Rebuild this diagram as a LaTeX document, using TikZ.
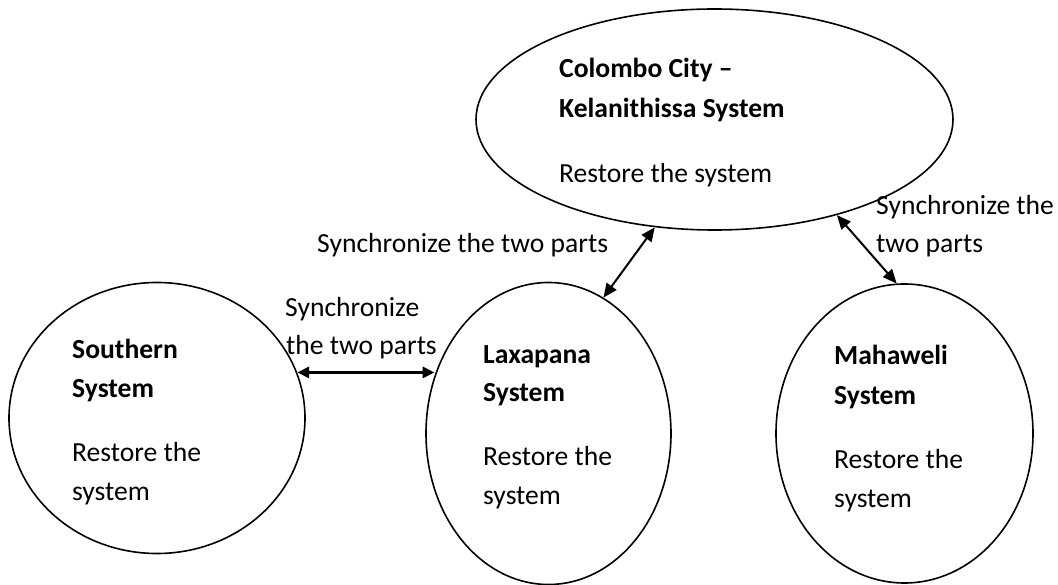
\documentclass[tikz,border=0pt]{standalone}
\usepackage{fontspec}
\setmainfont{Carlito}
\usetikzlibrary{shapes.geometric,arrows.meta}
\begin{document}
\begin{tikzpicture}[x=1pt,y=-1pt,
  sys/.style={draw,ellipse,line width=1.6pt,inner sep=0pt},
  txt/.style={anchor=base west,inner sep=0pt,font=\fontsize{27.6}{39}\selectfont},
  btxt/.style={anchor=base west,inner sep=0pt,font=\fontsize{27.6}{39}\selectfont\bfseries},
  link/.style={line width=2pt,{Triangle[length=14pt,width=12pt]}-{Triangle[length=14pt,width=12pt]}},
  thick link/.style={line width=3.5pt,{Triangle[length=12pt,width=11pt]}-{Triangle[length=12pt,width=11pt]}}]
\useasboundingbox (0,0) rectangle (1058,585);
% ellipses
\node[sys,minimum width=477pt,minimum height=221pt] (top) at (714.5,119.5) {};
\node[sys,minimum width=296pt,minimum height=271pt] (sou) at (157,418) {};
\node[sys,minimum width=245pt,minimum height=302pt] (lax) at (548.5,433.5) {};
\node[sys,minimum width=257pt,minimum height=299pt] (mah) at (904.5,433.5) {};
% texts in ellipses
\node[btxt] (t1) at (559,78) {Colombo City –};
\node[btxt] (t2) at (559,118) {Kelanithissa System};
\node[txt] (t3) at (559,183) {Restore the system};
\node[btxt] (s1) at (72,359) {Southern};
\node[btxt] (s2) at (72,398) {System};
\node[txt] (s3) at (72,461) {Restore the};
\node[txt] (s4) at (72,500) {system};
\node[btxt] (l1) at (483,363) {Laxapana};
\node[btxt] (l2) at (483,402) {System};
\node[txt] (l3) at (483,465) {Restore the};
\node[txt] (l4) at (483,504) {system};
\node[btxt] (m1) at (834,365) {Mahaweli};
\node[btxt] (m2) at (834,404) {System};
\node[txt] (m3) at (834,468) {Restore the};
\node[txt] (m4) at (834,507) {system};
% labels
\node[txt] (a1) at (317,253) {Synchronize the two parts};
\node[txt] (b1) at (876,215) {Synchronize the};
\node[txt] (b2) at (876,253) {two parts};
\node[txt] (c1) at (285,317) {Synchronize};
\node[txt] (c2) at (286,355) {the two parts};
% connectors
\draw[link] (lax.68) -- (top.241);
\draw[link] (top.-38) -- (mah.93);
\draw[thick link] (sou.18) -- (sou.18 -| lax.153);
\end{tikzpicture}
\end{document}
